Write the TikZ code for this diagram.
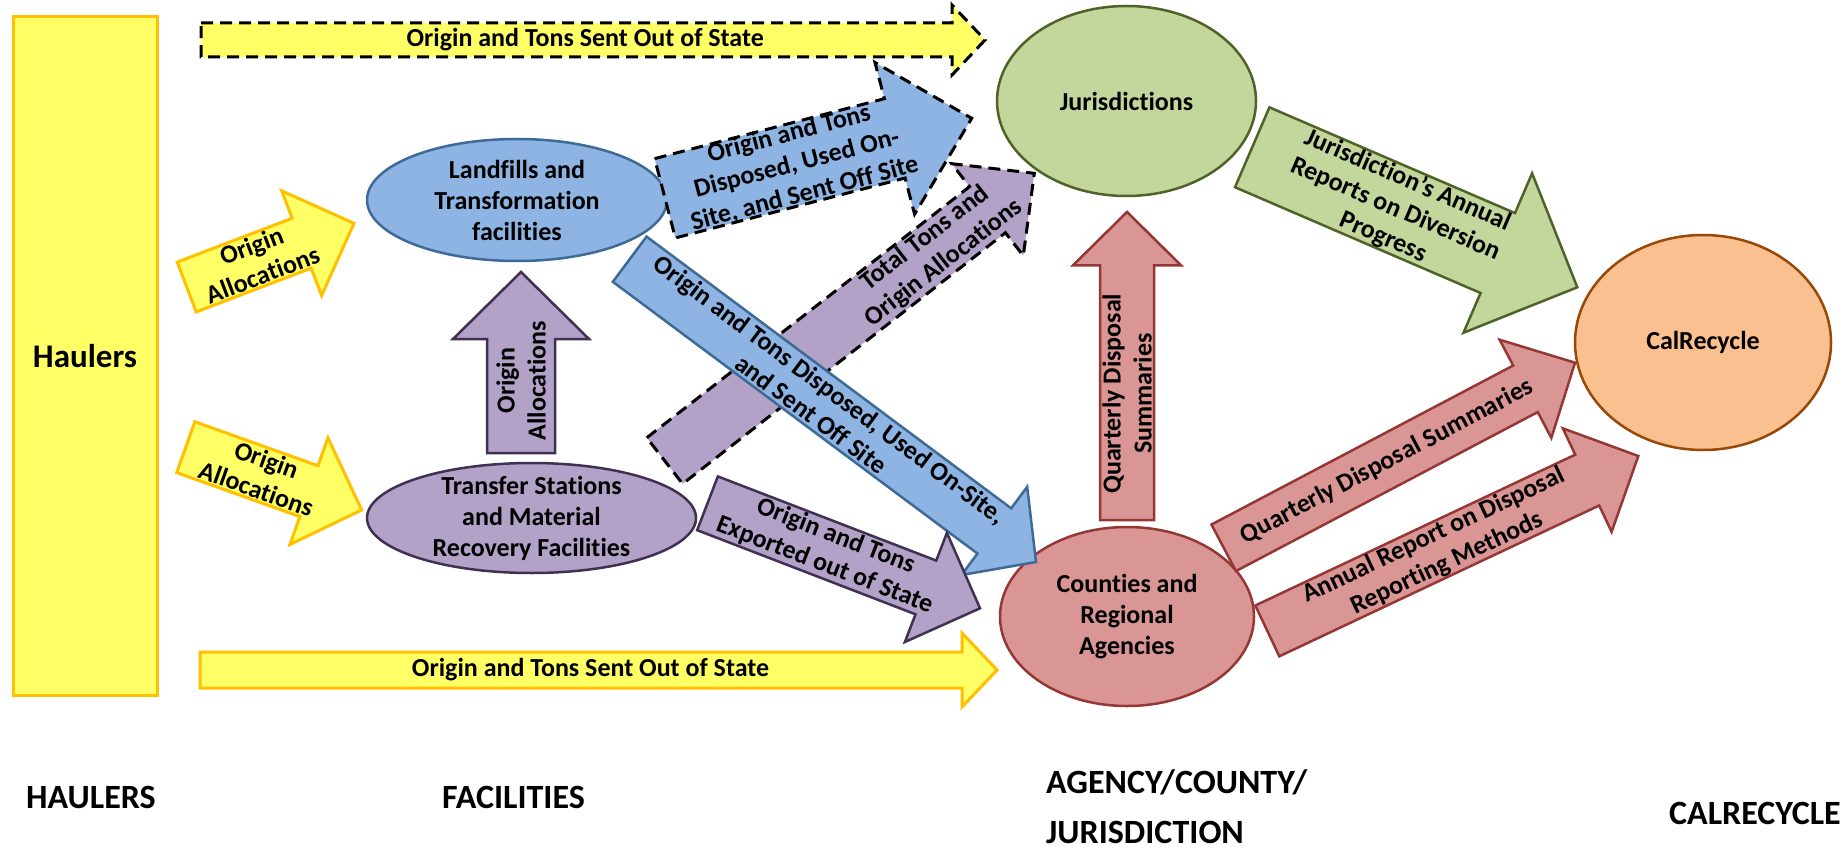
\documentclass[tikz,border=0pt]{standalone}
\usepackage{fontspec}
\setmainfont{Carlito}[Ligatures=CommonOff]
\usetikzlibrary{calc,positioning,shapes.geometric}

\definecolor{yfill}{HTML}{FFFF66}
\definecolor{yline}{HTML}{FFC000}
\definecolor{bfill}{HTML}{8EB4E3}
\definecolor{bline}{HTML}{3E6A96}
\definecolor{pfill}{HTML}{B3A2C7}
\definecolor{pline}{HTML}{403152}
\definecolor{gfill}{HTML}{C3D69B}
\definecolor{gline}{HTML}{4F6228}
\definecolor{rfill}{HTML}{D99694}
\definecolor{rline}{HTML}{953735}
\definecolor{ofill}{HTML}{FAC090}
\definecolor{oline}{HTML}{984807}

% block arrow: [label opts]{style}{tail}{tip}{half width}{head half width}{head length}{text}
\newcommand{\blockarr}[8][]{%
  \coordinate (hb) at ($(#4)!#7!(#3)$);
  \draw[#2] ($(#3)!#5!90:(#4)$) -- ($(hb)!#5!-90:(#3)$) -- ($(hb)!#6!-90:(#3)$)
    -- (#4) -- ($(hb)!#6!90:(#3)$) -- ($(hb)!#5!90:(#3)$) -- ($(#3)!#5!-90:(#4)$) -- cycle;
  \path (#3) -- (#4) node[lbl,midway,sloped,#1] {#8};
}

\begin{document}
\begin{tikzpicture}[x=1pt,y=-1pt,
  txt/.style={font=\fontsize{26}{31}\selectfont\bfseries,align=center,inner sep=0pt},
  lbl/.style={txt},
  colhead/.style={font=\fontsize{34}{50}\selectfont\bfseries,align=left,inner sep=0pt,anchor=west},
  bubble/.style={ellipse,draw,line width=2.5pt,inner sep=0pt},
  yarr/.style={fill=yfill,draw=yline,line width=3pt},
  darr/.style={draw=black,line width=3pt,dash pattern=on 12pt off 7pt},
  barr/.style={fill=bfill,draw=bline,line width=2.5pt},
  parr/.style={fill=pfill,draw=pline,line width=2.5pt},
  garr/.style={fill=gfill,draw=gline,line width=2.5pt},
  rarr/.style={fill=rfill,draw=rline,line width=2.5pt}]
\useasboundingbox (0,0) rectangle (1843,850);

\node[draw=yline,fill=yfill,line width=3pt,minimum width=144pt,minimum height=678pt,
  font=\fontsize{33}{40}\selectfont\bfseries] (haul) at (85,356) {Haulers};

\node[bubble,fill=bfill,draw=bline,minimum width=300pt,minimum height=122pt] (lf) at (517,200) {};
\node[bubble,fill=pfill,draw=pline,minimum width=329pt,minimum height=110pt] (ts) at (531.5,518) {};
\node[bubble,fill=gfill,draw=gline,minimum width=259pt,minimum height=190pt] (jur) at (1126.5,101) {};
\node[bubble,fill=rfill,draw=rline,minimum width=254pt,minimum height=179pt] (cty) at (1127,616.5) {};
\node[bubble,fill=ofill,draw=oline,minimum width=256pt,minimum height=215pt] (cal) at (1703,342.5) {};

\node[txt] at (lf) {Landfills and\\Transformation\\facilities};
\node[txt] at (ts) {Transfer Stations\\and Material\\Recovery Facilities};
\node[txt] at (jur) {Jurisdictions};
\node[txt] at (cty) {Counties and\\Regional\\Agencies};
\node[txt] at (cal) {CalRecycle};

\coordinate (top-s) at (201,40);      \coordinate (top-e) at (985,40);
\coordinate (bot-s) at (200,670);     \coordinate (bot-e) at (997,670);
\coordinate (oa1-s) at (186.7,287);   \coordinate (oa1-e) at (354,223.3);
\coordinate (oa2-s) at (185.8,447.2); \coordinate (oa2-e) at (361.7,510);
\coordinate (up-s) at (521,453);      \coordinate (up-e) at (521,272);
\coordinate (lfj-s) at (665,198.3);   \coordinate (lfj-e) at (971.7,118.3);
\coordinate (tot-s) at (664.7,460.8); \coordinate (tot-e) at (1034.3,173.3);
\coordinate (lfc-s) at (629.7,259.2); \coordinate (lfc-e) at (1036,562);
\coordinate (exp-s) at (707.5,503.3); \coordinate (exp-e) at (980,608.3);
\coordinate (jc-s) at (1252.2,147.3); \coordinate (jc-e) at (1577.3,287.3);
\coordinate (cj-s) at (1127,520);     \coordinate (cj-e) at (1127,212);
\coordinate (qd-s) at (1223.7,547.8); \coordinate (qd-e) at (1575,362.7);
\coordinate (ar-s) at (1267.3,630.9); \coordinate (ar-e) at (1638.3,456);

% haulers
\blockarr[pos=.49]{fill=yfill,darr}{top-s}{top-e}{17pt}{35pt}{33pt}{Origin and Tons Sent Out of State}
\blockarr[pos=.49]{yarr}{bot-s}{bot-e}{18pt}{37pt}{35pt}{Origin and Tons Sent Out of State}
\blockarr[pos=.42]{yarr}{oa1-s}{oa1-e}{26.7pt}{56pt}{56pt}{Origin\\Allocations}
\blockarr[pos=.43]{yarr}{oa2-s}{oa2-e}{27pt}{56.6pt}{56pt}{Origin\\Allocations}

% facilities
\blockarr[pos=.40]{parr}{up-s}{up-e}{34pt}{68pt}{67pt}{Origin\\Allocations}
\blockarr[pos=.43]{fill=bfill,darr}{lfj-s}{lfj-e}{41pt}{78.4pt}{79.5pt}{Origin and Tons\\Disposed, Used On-\\Site, and Sent Off Site}
\blockarr[pos=.73]{fill=pfill,darr}{tot-s}{tot-e}{29.2pt}{58.3pt}{59.3pt}{Total Tons and\\Origin Allocations}
\blockarr[pos=.47]{barr}{lfc-s}{lfc-e}{28.2pt}{55pt}{52pt}{Origin and Tons Disposed, Used On-Site,\\and Sent Off Site}
\blockarr[pos=.45]{parr}{exp-s}{exp-e}{28.8pt}{58.5pt}{58pt}{Origin and Tons\\Exported out of State}

% agencies
\blockarr[pos=.44]{garr}{jc-s}{jc-e}{43.5pt}{86.8pt}{86.6pt}{Jurisdiction’s Annual\\Reports on Diversion\\Progress}
\blockarr[pos=.41]{rarr}{cj-s}{cj-e}{27pt}{54pt}{53.3pt}{Quarterly Disposal\\Summaries}
\blockarr[pos=.465]{rarr}{qd-s}{qd-e}{26.3pt}{55.5pt}{56pt}{Quarterly Disposal Summaries}
\blockarr[pos=.466]{rarr}{ar-s}{ar-e}{28.1pt}{57.2pt}{56.5pt}{Annual Report on Disposal\\Reporting Methods}

\node[colhead] (c-haul) at (26,797) {HAULERS};
\node[colhead] (c-fac) at (442,797) {FACILITIES};
\node[colhead] (c-agy) at (1046,807) {AGENCY/COUNTY/\\JURISDICTION};
\node[colhead] (c-cal) at (1669,813) {CALRECYCLE};
\end{tikzpicture}
\end{document}
